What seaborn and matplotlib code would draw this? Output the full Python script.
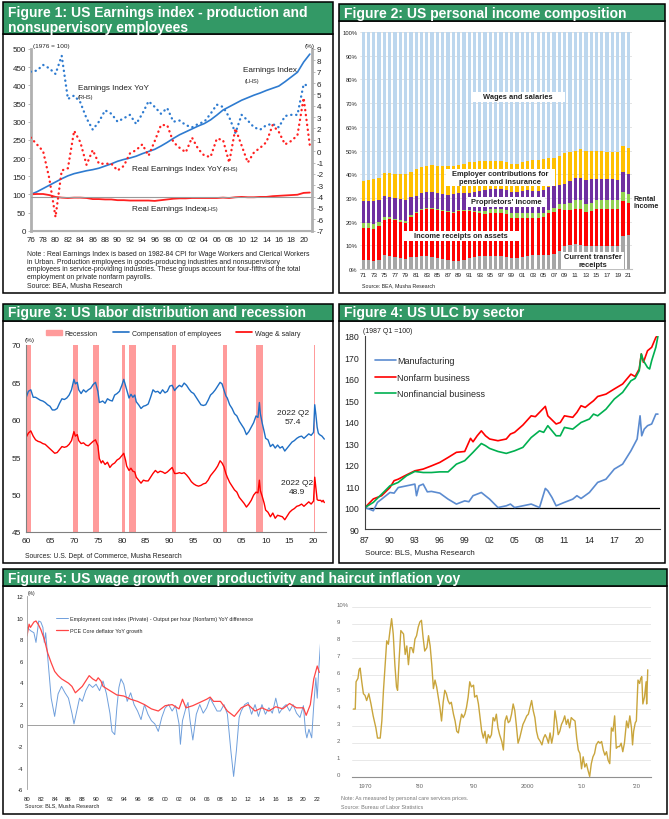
import numpy as np
import matplotlib
matplotlib.use('Agg')
import matplotlib.pyplot as plt
from matplotlib.patches import Rectangle, Patch
from matplotlib.lines import Line2D
import seaborn as sns

sns.set_style('white')
plt.rcParams['font.family'] = ['Liberation Sans', 'DejaVu Sans']
plt.rcParams['axes.linewidth'] = 0.8
plt.rcParams['axes.unicode_minus'] = False

# ---------------- Figure 1 data (annual 1976-2021) ----------------
years1 = list(range(1976, 2022))
earn_idx = [100, 107, 116, 125, 134, 143, 151, 157, 161, 165,
            168, 172, 178, 184, 191, 196, 200, 205, 212, 218,
            224, 233, 243, 254, 264, 272, 280, 288, 295, 305,
            318, 332, 341, 350, 359, 366, 373, 379, 386, 392,
            398, 410, 423, 436, 464, 486]
earn_yoy = [7.0, 7.1, 7.6, 7.3, 6.8, 8.4, 4.6, 4.9, 4.3, 2.9,
            1.9, 2.6, 3.6, 3.3, 2.6, 2.9, 3.2, 2.4, 3.3, 4.4,
            3.9, 3.3, 3.8, 2.6, 2.7, 2.3, 2.1, 2.4, 2.6, 3.3,
            4.1, 3.9, 3.0, 1.6, 3.2, 2.7, 2.1, 1.9, 2.3, 2.4,
            2.1, 3.1, 3.2, 3.2, 5.9, 5.7]
real_yoy = [1.2, 0.6, 0.0, -2.4, -5.8, -1.7, -1.5, 1.8, 0.8, -1.2,
            0.1, -1.1, -1.1, -1.1, -1.7, -1.3, -0.2, 0.1, 0.6, -0.4,
            0.9, 2.3, 2.3, 0.8, 0.3, -0.1, 1.2, 0.2, -0.4, -0.5,
            1.1, 1.0, -1.0, 2.0, 0.5, -1.0, -0.1, 0.3, 0.8, 2.3,
            1.7, 0.6, 0.9, 1.4, 4.7, 0.5]
real_idx = [100, 101, 101, 98, 93, 91, 90, 91, 91, 90,
            87, 87, 86, 86, 84, 84, 83, 83, 83, 83,
            82, 84, 86, 88, 89, 89, 90, 90, 90, 90,
            90, 91, 90, 92, 93, 92, 92, 93, 93, 95,
            96, 97, 98, 99, 104, 105]

# ---------------- Figure 2 data (cumulative share tops, %, 1971-2021) ----------------
years2 = list(range(1971, 2022))
cum_total = [100] * 51
cum_employer = [37.3, 37.5, 37.8, 38.5, 40.5, 40.3, 40.0, 40.0, 40.0, 41.0,
                42.0, 43.0, 43.5, 44.0, 43.5, 43.5, 43.3, 43.5, 44.0, 44.3,
                45.0, 45.3, 45.5, 45.5, 45.6, 45.6, 45.4, 45.0, 44.4, 44.5,
                45.0, 45.5, 46.0, 46.0, 46.5, 46.8, 47.0, 47.5, 49.0, 49.5,
                50.0, 50.5, 50.0, 50.0, 50.0, 49.8, 49.5, 49.5, 49.2, 52.0,
                51.0]
cum_proprietors = [28.6, 28.7, 28.8, 29.0, 30.6, 30.5, 30.0, 29.6, 29.2, 30.2,
                   31.0, 32.0, 32.3, 32.6, 32.2, 31.8, 31.2, 31.5, 32.0, 32.0,
                   32.0, 32.6, 33.0, 33.2, 33.6, 33.8, 33.6, 33.2, 32.6, 32.5,
                   33.0, 33.2, 33.0, 33.0, 33.5, 34.5, 35.0, 35.5, 36.0, 37.0,
                   38.5, 38.6, 37.6, 38.0, 38.0, 38.0, 38.0, 38.0, 37.6, 41.0,
                   40.2]
cum_rental = [19.5, 19.2, 19.0, 20.0, 22.0, 22.0, 21.3, 20.8, 20.2, 22.6,
              24.0, 25.4, 25.8, 25.8, 25.3, 24.8, 24.3, 23.9, 25.0, 25.0,
              25.0, 24.6, 24.5, 24.5, 25.5, 25.5, 25.3, 25.0, 23.7, 23.5,
              23.6, 23.7, 23.7, 23.5, 23.8, 24.8, 25.8, 27.5, 27.5, 27.8,
              29.0, 29.0, 27.6, 28.0, 29.0, 29.0, 29.0, 29.0, 29.0, 32.5,
              31.5]
cum_assets = [17.5, 17.2, 17.0, 18.2, 20.5, 21.0, 20.5, 20.0, 19.5, 22.0,
              23.5, 25.0, 25.5, 25.5, 25.0, 24.5, 24.0, 23.5, 24.5, 24.5,
              24.5, 24.0, 23.5, 23.0, 23.5, 23.5, 23.5, 23.0, 21.5, 21.5,
              21.5, 21.5, 21.5, 21.5, 22.0, 23.5, 24.0, 25.5, 25.0, 25.0,
              25.5, 25.5, 24.0, 24.5, 25.5, 25.5, 25.5, 25.5, 25.5, 28.5,
              28.0]
cum_transfer = [4.0, 4.0, 3.5, 4.0, 5.8, 5.5, 5.0, 4.5, 4.3, 5.0,
                5.0, 5.5, 5.6, 5.0, 4.5, 4.3, 4.0, 3.5, 3.5, 4.0,
                4.5, 5.0, 5.4, 5.4, 5.4, 5.4, 5.4, 5.0, 4.5, 4.5,
                5.0, 5.5, 5.9, 6.0, 6.0, 6.0, 6.3, 7.7, 9.9, 10.2,
                10.4, 10.0, 9.6, 9.5, 9.5, 9.5, 9.5, 9.5, 9.5, 14.0,
                14.4]

# ---------------- Figure 3 data ----------------
share_x = [1960.0, 1960.5, 1961.0, 1961.5, 1962.0, 1962.5, 1963.0, 1963.5, 1964.0, 1964.5,
           1965.0, 1965.5, 1966.0, 1966.5, 1967.0, 1967.5, 1968.0, 1968.5, 1969.0, 1969.5,
           1970.0, 1970.3, 1970.7, 1971.0, 1971.5, 1972.0, 1972.5, 1973.0, 1973.5, 1974.0,
           1974.5, 1975.0, 1975.3, 1975.7, 1976.0, 1976.5, 1977.0, 1977.5, 1978.0, 1978.5,
           1979.0, 1979.5, 1980.0, 1980.4, 1980.8, 1981.0, 1981.5, 1981.9, 1982.3, 1982.7,
           1983.0, 1983.5, 1984.0, 1984.5, 1985.0, 1985.5, 1986.0, 1986.5, 1987.0, 1987.5,
           1988.0, 1988.5, 1989.0, 1989.5, 1990.0, 1990.5, 1991.0, 1991.5, 1992.0, 1992.5,
           1993.0, 1993.5, 1994.0, 1994.5, 1995.0, 1995.5, 1996.0, 1996.5, 1997.0, 1997.5,
           1998.0, 1998.5, 1999.0, 1999.5, 2000.0, 2000.5, 2000.9, 2001.3, 2001.7, 2002.0,
           2002.5, 2003.0, 2003.5, 2004.0, 2004.5, 2005.0, 2005.5, 2006.0, 2006.5, 2007.0,
           2007.5, 2008.0, 2008.4, 2008.7, 2008.9, 2009.3, 2009.7, 2010.0, 2010.5, 2011.0,
           2011.5, 2012.0, 2012.5, 2013.0, 2013.5, 2014.0, 2014.5, 2015.0, 2015.5, 2016.0,
           2016.5, 2017.0, 2017.5, 2018.0, 2018.5, 2019.0, 2019.5, 2020.0, 2020.25, 2020.5,
           2020.75, 2021.0, 2021.25, 2021.5, 2021.75, 2022.0, 2022.25]
comp_share = [62.9, 63.8, 64.0, 63.0, 63.0, 62.8, 62.6, 62.5, 62.3, 62.0,
              61.8, 61.3, 61.3, 61.5, 62.2, 62.8, 62.7, 62.9, 63.3, 64.0,
              65.4, 64.8, 65.0, 64.0, 63.5, 64.0, 63.7, 64.0, 64.2, 64.7,
              65.0, 63.8, 62.3, 62.4, 62.5, 62.2, 62.8, 62.6, 62.5, 63.3,
              63.5, 63.8, 64.6, 65.4, 64.5, 64.0, 62.9, 63.4, 63.0, 63.3,
              62.4, 62.0, 61.5, 61.8, 61.9, 62.1, 63.0, 64.0, 63.7, 63.8,
              63.5, 64.0, 63.6, 63.8, 64.5, 64.6, 63.9, 64.3, 64.6, 64.4,
              64.9, 64.6, 64.1, 63.7, 63.5, 63.0, 62.5, 62.0, 61.9, 62.0,
              62.6, 63.3, 63.6, 64.0, 64.5, 65.0, 64.8, 64.0, 63.2, 62.9,
              62.0, 61.5, 60.8, 60.5, 59.8, 59.3, 58.8, 58.0, 58.4, 59.0,
              59.6, 60.5, 60.3, 62.3, 60.8, 59.5, 58.4, 57.5, 57.3, 56.4,
              56.7, 56.2, 56.6, 56.2, 56.4, 55.8, 56.2, 56.6, 57.0, 57.2,
              57.5, 57.7, 57.8, 57.5, 57.8, 58.1, 57.9, 58.3, 62.0, 60.6,
              59.0, 58.2, 58.0, 57.9, 57.8, 57.6, 57.4]
wage_share = [57.6, 58.2, 58.5, 57.8, 57.3, 57.1, 57.0, 56.8, 56.7, 56.4,
              56.1, 55.8, 55.5, 55.6, 56.0, 56.4, 56.3, 56.4, 56.7, 57.2,
              58.4, 57.8, 58.0, 57.2, 56.8, 56.9, 56.6, 56.5, 56.8, 57.1,
              57.3, 56.5, 54.8, 54.2, 54.5, 54.0, 54.3, 53.6, 54.0, 54.2,
              54.6, 54.8, 55.2, 55.5, 54.5, 53.8, 53.2, 53.5, 53.1, 53.0,
              52.3, 51.9, 51.5, 51.9, 51.8, 51.8, 52.3, 52.8, 53.2, 52.9,
              53.1, 53.0, 52.8, 53.0, 53.3, 53.6, 52.8, 52.8, 52.9, 52.8,
              52.9, 52.6, 52.2, 51.7, 51.4, 51.2, 51.1, 51.2, 51.4, 51.5,
              51.9, 52.5, 52.9, 53.3, 53.8, 54.5, 54.2, 53.7, 52.8, 52.3,
              51.6, 51.1, 50.6, 50.3, 49.6, 49.2, 48.8, 48.3, 48.7, 49.2,
              49.9, 50.3, 50.2, 51.9, 50.5, 49.7, 48.8, 47.9, 47.6, 47.0,
              47.5, 46.8, 47.2, 47.1, 47.0, 46.6, 47.1, 47.6, 47.9, 48.1,
              48.4, 48.5, 48.7, 48.4, 48.7, 49.0, 48.7, 49.1, 52.3, 50.8,
              49.3, 49.2, 49.2, 49.2, 49.0, 49.2, 48.9]
rec_start = [1960.3, 1969.9, 1973.9, 1980.0, 1981.5, 1990.5, 2001.2, 2007.9, 2020.0]
rec_end = [1961.1, 1970.9, 1975.2, 1980.6, 1982.9, 1991.2, 2001.9, 2009.5, 2020.3]

# ---------------- Figure 4 data ----------------
nonfarm_x = [1987.0, 1988.0, 1989.0, 1990.0, 1990.5, 1991.0, 1992.0, 1993.0, 1994.0, 1995.0,
             1996.0, 1997.0, 1998.0, 1999.0, 1999.7, 2000.0, 2000.5, 2001.0, 2001.5, 2002.0,
             2003.0, 2004.0, 2004.5, 2005.0, 2006.0, 2007.0, 2007.5, 2008.0, 2008.7, 2009.0,
             2010.0, 2010.5, 2011.0, 2012.0, 2012.5, 2013.0, 2013.5, 2014.0, 2014.5, 2015.0,
             2016.0, 2017.0, 2018.0, 2019.0, 2019.5, 2020.0, 2020.25, 2020.5, 2021.0, 2021.5,
             2022.0, 2022.25]
nonfarm_y = [100.0, 104.0, 105.5, 109.3, 112.5, 113.2, 115.2, 117.1, 117.9, 119.4,
             121.0, 123.3, 125.7, 126.1, 132.2, 130.6, 133.4, 135.7, 133.4, 131.9,
             131.1, 131.9, 134.2, 135.0, 138.4, 142.7, 142.3, 144.3, 147.1, 142.7,
             138.9, 139.6, 142.7, 142.0, 144.3, 147.4, 146.6, 148.2, 149.7, 151.7,
             152.8, 155.2, 157.5, 162.1, 161.0, 164.5, 171.5, 167.6, 173.0, 174.6,
             179.2, 180.3]
nonfin_x = [1987.0, 1988.0, 1989.0, 1990.0, 1991.0, 1992.0, 1993.0, 1994.0, 1995.0, 1996.0,
            1997.0, 1998.0, 1999.0, 2000.0, 2001.0, 2001.5, 2002.0, 2003.0, 2004.0, 2005.0,
            2006.0, 2007.0, 2008.0, 2008.5, 2009.0, 2010.0, 2010.5, 2011.0, 2012.0, 2013.0,
            2014.0, 2014.5, 2015.0, 2016.0, 2017.0, 2018.0, 2019.0, 2019.5, 2020.0, 2020.25,
            2020.5, 2021.0, 2021.25, 2021.5, 2022.0, 2022.25]
nonfin_y = [100.0, 102.4, 106.2, 110.1, 111.7, 114.8, 116.8, 116.3, 116.3, 116.6,
            116.6, 120.2, 121.8, 125.7, 129.8, 128.8, 127.5, 126.1, 125.2, 126.4,
            128.0, 132.6, 135.7, 135.0, 138.1, 133.4, 133.4, 137.3, 136.5, 139.6,
            141.2, 143.5, 142.7, 145.8, 150.5, 153.6, 159.0, 160.1, 163.7, 171.5,
            168.4, 165.2, 164.5, 168.4, 174.6, 179.7]
mfg_x = [1987.0, 1987.5, 1988.0, 1988.5, 1989.0, 1990.0, 1990.5, 1991.0, 1992.0, 1993.0,
         1993.2, 1993.5, 1994.0, 1994.5, 1995.0, 1996.0, 1997.0, 1998.0, 1999.0, 1999.5,
         2000.0, 2001.0, 2002.0, 2003.0, 2004.0, 2004.5, 2005.0, 2006.0, 2007.0, 2008.0,
         2008.7, 2009.0, 2009.5, 2010.0, 2011.0, 2012.0, 2012.5, 2013.0, 2014.0, 2015.0,
         2016.0, 2017.0, 2018.0, 2019.0, 2019.75, 2020.1, 2020.3, 2020.6, 2021.0, 2021.5,
         2022.0, 2022.25]
mfg_y = [100.0, 99.3, 98.5, 102.4, 103.9, 107.0, 106.7, 109.3, 110.1, 110.9,
         105.5, 110.1, 110.9, 107.3, 107.5, 106.7, 103.9, 101.6, 103.1, 102.7,
         105.5, 107.0, 103.9, 100.0, 100.8, 101.6, 100.0, 100.8, 101.6, 100.0,
         108.9, 107.8, 104.7, 100.8, 102.4, 103.9, 105.5, 104.2, 107.0, 111.7,
         113.2, 117.9, 120.2, 126.4, 131.9, 142.7, 133.4, 136.5, 138.1, 138.9,
         143.5, 143.5]

# ---------------- Figure 5 data ----------------
eci_x = [1980.0, 1980.5, 1981.0, 1981.3, 1981.7, 1982.0, 1982.3, 1982.5, 1982.7, 1983.0,
         1983.5, 1984.0, 1984.5, 1985.0, 1985.5, 1986.0, 1986.5, 1986.8, 1987.2, 1987.6,
         1988.0, 1988.5, 1989.0, 1989.5, 1990.0, 1990.5, 1991.0, 1991.5, 1992.0, 1992.3,
         1992.7, 1993.0, 1993.3, 1993.6, 1994.0, 1994.5, 1995.0, 1995.5, 1996.0, 1996.5,
         1997.0, 1997.5, 1998.0, 1998.5, 1999.0, 1999.5, 2000.0, 2000.5, 2001.0, 2001.5,
         2002.0, 2002.2, 2002.5, 2003.0, 2003.3, 2003.6, 2004.0, 2004.5, 2005.0, 2005.5,
         2006.0, 2006.5, 2007.0, 2007.5, 2008.0, 2008.5, 2009.0, 2009.5, 2009.9, 2010.3,
         2010.7, 2011.0, 2011.5, 2012.0, 2012.5, 2013.0, 2013.5, 2014.0, 2014.5, 2015.0,
         2015.5, 2016.0, 2016.5, 2017.0, 2017.5, 2018.0, 2018.5, 2019.0, 2019.5, 2020.0,
         2020.3, 2020.5, 2020.8, 2021.2, 2021.5, 2021.8, 2022.0, 2022.2, 2022.5]
eci_y = [9.1, 8.8, 8.6, 7.7, 9.7, 9.6, 9.1, 7.7, 8.6, 6.3,
         2.5, 0.8, 2.9, 3.6, 3.0, 2.5, 1.1, 0.1, 1.3, 2.5,
         2.2, 3.2, 3.8, 3.5, 3.8, 3.2, 4.1, 2.9, 1.1, -0.6,
         -0.9, 1.6, 3.5, 4.3, 3.8, 2.2, 3.0, 1.9, 1.3, 0.5,
         1.9, 1.0, 0.4, 0.1, -0.6, 0.7, 1.6, 1.9, 1.3, 1.8,
         0.1, -1.8, 0.4, 1.6, 2.1, 0.4, -1.4, 1.0, 1.9, 1.1,
         1.6, 2.5, 1.9, 1.3, 1.3, 1.9, 1.0, -2.4, -4.8, -2.4,
         0.7, 1.3, 1.9, 2.1, 1.0, 1.9, 0.8, 1.9, 1.0, 1.6,
         1.1, 2.5, 1.1, 1.6, 1.9, 1.3, 1.9, 1.1, 0.7, 1.8,
         -0.6, -1.2, -0.4, -1.2, 1.9, 4.4, 2.5, 5.0, 7.9]
pce_x = [1980.0, 1980.3, 1980.5, 1981.0, 1981.3, 1981.7, 1982.0, 1982.5, 1983.0, 1983.5,
         1984.0, 1984.5, 1985.0, 1985.5, 1986.0, 1986.5, 1987.0, 1987.5, 1988.0, 1988.5,
         1989.0, 1989.5, 1990.0, 1990.3, 1990.7, 1991.0, 1992.0, 1993.0, 1994.0, 1995.0,
         1996.0, 1997.0, 1998.0, 1999.0, 2000.0, 2001.0, 2002.0, 2002.5, 2003.0, 2004.0,
         2005.0, 2006.0, 2006.5, 2007.0, 2008.0, 2009.0, 2010.0, 2011.0, 2012.0, 2013.0,
         2014.0, 2015.0, 2016.0, 2017.0, 2018.0, 2019.0, 2020.0, 2020.4, 2021.0, 2021.5,
         2022.0, 2022.3]
pce_y = [8.3, 9.4, 9.1, 9.6, 9.7, 9.3, 8.9, 8.0, 6.7, 5.8,
         5.0, 4.6, 4.3, 4.1, 3.9, 3.6, 3.0, 3.3, 3.6, 4.1,
         4.6, 4.3, 4.1, 4.4, 4.1, 3.6, 3.2, 2.8, 2.7, 2.4,
         2.2, 1.9, 1.5, 1.3, 1.8, 1.9, 1.5, 2.4, 1.6, 1.8,
         2.1, 2.4, 2.6, 2.2, 2.2, 1.3, 0.8, 1.6, 1.9, 1.3,
         1.6, 1.3, 1.7, 1.5, 2.0, 1.6, 1.6, 0.9, 1.9, 4.3,
         5.5, 4.9]
hair_x = [1967.85, 1968.2, 1968.35, 1968.7, 1968.9, 1969.1, 1969.4, 1969.7, 1970.0, 1970.3,
          1970.7, 1971.1, 1971.5, 1972.0, 1972.3, 1972.8, 1973.1, 1973.4, 1973.7, 1974.0,
          1974.3, 1974.6, 1974.9, 1975.2, 1975.5, 1975.8, 1976.0, 1976.3, 1976.6, 1977.1,
          1977.4, 1977.7, 1978.0, 1978.3, 1978.6, 1978.9, 1979.2, 1979.5, 1979.8, 1980.1,
          1980.4, 1980.7, 1981.0, 1981.4, 1981.7, 1982.0, 1982.3, 1982.6, 1982.9, 1983.2,
          1983.5, 1983.8, 1984.1, 1984.4, 1984.7, 1985.0, 1985.3, 1985.6, 1985.9, 1986.3,
          1986.6, 1986.9, 1987.2, 1987.5, 1987.8, 1988.1, 1988.4, 1988.7, 1989.0, 1989.3,
          1989.6, 1990.0, 1990.2, 1990.6, 1990.9, 1991.2, 1991.5, 1991.8, 1992.1, 1992.4,
          1992.7, 1993.0, 1993.3, 1993.6, 1993.9, 1994.2, 1994.5, 1994.8, 1995.2, 1995.5,
          1995.8, 1996.1, 1996.4, 1996.7, 1997.0, 1997.3, 1997.6, 1997.9, 1998.2, 1998.5,
          1998.8, 1999.1, 1999.4, 1999.8, 2000.1, 2000.4, 2000.7, 2001.0, 2001.3, 2001.6,
          2001.9, 2002.3, 2002.6, 2002.9, 2003.2, 2003.5, 2003.8, 2004.1, 2004.4, 2004.7,
          2005.0, 2005.3, 2005.6, 2005.9, 2006.2, 2006.5, 2006.8, 2007.1, 2007.4, 2007.7,
          2008.0, 2008.3, 2008.7, 2009.0, 2009.3, 2009.6, 2009.9, 2010.2, 2010.5, 2010.8,
          2011.1, 2011.4, 2011.7, 2012.0, 2012.3, 2012.6, 2013.0, 2013.3, 2013.6, 2013.9,
          2014.2, 2014.5, 2014.8, 2015.1, 2015.4, 2015.7, 2016.0, 2016.3, 2016.6, 2016.9,
          2017.2, 2017.5, 2017.8, 2018.2, 2018.5, 2018.8, 2019.1, 2019.3, 2019.5, 2019.8,
          2020.0, 2020.3, 2020.6, 2020.8, 2021.0, 2021.2, 2021.5, 2021.8, 2021.9, 2022.1]
hair_y = [4.0, 4.0, 5.6, 5.8, 6.3, 6.4, 5.6, 4.9, 4.8, 4.5,
          4.9, 4.3, 3.6, 2.9, 2.3, 2.3, 3.3, 5.1, 6.6, 8.0,
          7.8, 8.6, 9.3, 8.4, 6.6, 5.3, 5.1, 7.0, 8.6, 8.4,
          7.2, 7.7, 6.6, 7.6, 7.6, 7.3, 8.1, 8.3, 8.8, 9.1,
          9.2, 8.2, 7.4, 7.6, 8.3, 7.7, 6.6, 5.2, 5.7, 5.3,
          4.7, 4.1, 3.3, 4.4, 5.1, 4.9, 4.5, 4.3, 4.4, 3.7,
          3.3, 2.7, 2.6, 3.2, 3.7, 3.5, 3.7, 4.1, 4.7, 5.6,
          5.3, 5.4, 4.7, 4.8, 4.3, 3.5, 2.7, 2.3, 2.7, 2.0,
          2.5, 2.3, 2.5, 3.5, 3.3, 3.7, 2.9, 2.5, 2.1, 1.6,
          3.3, 3.6, 3.2, 3.3, 3.7, 4.3, 3.9, 3.0, 2.0, 2.3,
          2.7, 3.1, 3.3, 3.6, 3.7, 4.1, 4.5, 3.9, 3.5, 2.7,
          2.3, 2.1, 1.9, 2.3, 2.5, 2.3, 2.0, 2.6, 2.0, 2.5,
          3.9, 3.3, 2.5, 2.7, 3.1, 3.3, 3.6, 3.1, 3.4, 2.9,
          3.5, 3.4, 3.3, 2.3, 1.6, 1.4, 0.5, 1.2, 0.6, 0.8,
          0.4, 0.05, 0.8, 1.2, 1.4, 1.9, 2.1, 2.0, 2.1, 1.6,
          1.3, 1.5, 1.0, 0.8, 2.9, 2.7, 3.6, 1.7, 1.8, 1.8,
          2.0, 1.5, 2.0, 3.3, 2.9, 3.6, 2.9, 1.9, 2.7, 3.2,
          3.3, 5.7, 5.5, 5.8, 5.9, 4.3, 4.7, 5.6, 4.3, 6.3]

# ---------------- Layout ----------------
W, H = 669, 820
fig = plt.figure(figsize=(W / 100, H / 100), dpi=100)


def R(x0, y0, x1, y1):
    return [x0 / W, 1 - y1 / H, (x1 - x0) / W, (y1 - y0) / H]


bg = fig.add_axes([0, 0, 1, 1])
bg.set_xlim(0, W); bg.set_ylim(H, 0); bg.axis('off')
GREEN = '#339966'


def panel(x0, x1, yh0, yh1, yb1, titles, tys, size=10):
    bg.add_patch(Rectangle((x0, yh1), x1 - x0, yb1 - yh1, fc='white', ec='black', lw=1.1))
    bg.add_patch(Rectangle((x0, yh0), x1 - x0, yh1 - yh0, fc=GREEN, ec='black', lw=1.1))
    for t, ty in zip(titles, tys):
        bg.text(x0 + 5, ty, t, color='white', fontsize=size, fontweight='bold', va='center', ha='left')


panel(3, 333, 3, 35, 294, ['Figure 1: US Earnings index - production and', 'nonsupervisory employees'],
      [12.7, 28.3])
panel(339, 665, 5, 22, 294, ['Figure 2: US personal income composition'], [13.6])
panel(3, 333, 305, 322, 564, ['Figure 3: US labor distribution and recession'], [313.2])
panel(339, 665, 305, 322, 564, ['Figure 4: US ULC by sector'], [313.2])
panel(3, 667, 570, 587, 815, ['Figure 5: US wage growth over productivity and haircut inflation yoy'], [578.7])

TXT = '#222222'
DOT = (0, (0.1, 2.0))

# ---------------- Figure 1 ----------------
ax1 = fig.add_axes(R(30.7, 50, 311.7, 231.7))
ax1r = ax1.twinx()
sns.lineplot(x=years1, y=earn_idx, ax=ax1, color='#2E7BD0', lw=1.2)
sns.lineplot(x=years1, y=real_idx, ax=ax1, color='#FF2020', lw=1.3)
ax1r.axhline(-4, color='#9A9A9A', lw=0.8)
sns.lineplot(x=years1, y=earn_yoy, ax=ax1r, color='#2E7BD0', lw=1.7, linestyle=DOT, dash_capstyle='round')
sns.lineplot(x=years1, y=real_yoy, ax=ax1r, color='#FF2020', lw=1.7, linestyle=DOT, dash_capstyle='round')
ax1.set_xlim(1976, 2021.3); ax1.set_ylim(0, 500); ax1r.set_ylim(-7, 9)
ax1.set_yticks(range(0, 501, 50))
ax1r.set_yticks(range(-7, 10))
ax1.set_xticks(range(1976, 2021, 2))
ax1.set_xticklabels([f"{y % 100:02d}" for y in range(1976, 2021, 2)])
for a in (ax1, ax1r):
    a.set_xlabel(''); a.set_ylabel('')
    for s in a.spines.values():
        s.set_color('#B0B0B0')
    a.spines['top'].set_visible(False)
    a.tick_params(labelsize=5.8, length=2, width=0.6, pad=1.5, colors='#B0B0B0', labelcolor=TXT)
ax1.spines['left'].set_linewidth(2); ax1r.spines['right'].set_linewidth(2)
ax1.spines['bottom'].set_linewidth(1.5)
ax1r.spines['left'].set_visible(False); ax1.spines['right'].set_visible(False)

# ---------------- Figure 2 ----------------
ax2 = fig.add_axes(R(360, 33, 632, 270))
lab2 = [f"{y % 100:02d}" for y in years2]
for vals, c in [(cum_total, '#BDD7EE'), (cum_employer, '#FFC000'), (cum_proprietors, '#7030A0'),
                (cum_rental, '#92D050'), (cum_assets, '#FF0000'), (cum_transfer, '#A6A6A6')]:
    sns.barplot(x=lab2, y=vals, order=lab2, color=c, saturation=1, width=0.62, ax=ax2,
                errorbar=None, linewidth=0)
ax2.set_xlim(-0.6, 50.7); ax2.set_ylim(0, 100)
ax2.set_yticks(range(0, 101, 10))
ax2.set_yticklabels([f"{v}%" for v in range(0, 101, 10)])
ax2.set_xticks(range(0, 51, 2))
ax2.set_xticklabels(lab2[::2])
ax2.yaxis.grid(True, color='#D9D9D9', lw=0.5)
ax2.set_axisbelow(True)
for s in ['top', 'right', 'left']:
    ax2.spines[s].set_visible(False)
ax2.spines['bottom'].set_color('#BFBFBF')
ax2.tick_params(axis='y', labelsize=4.2, length=0, pad=2, labelcolor=TXT)
ax2.tick_params(axis='x', labelsize=4.6, length=0, pad=2.5, labelcolor=TXT)
ax2.set_xlabel(''); ax2.set_ylabel('')

# ---------------- Figure 3 ----------------
ax3 = fig.add_axes(R(26, 346, 326, 532.7))
for s0, s1 in zip(rec_start, rec_end):
    ax3.axvspan(s0, s1, color='#FF9B9B', lw=0, zorder=0)
sns.lineplot(x=share_x, y=comp_share, ax=ax3, color='#1F6FC5', lw=1.0)
sns.lineplot(x=share_x, y=wage_share, ax=ax3, color='#FF0000', lw=1.0)
ax3.set_xlim(1960, 2022.6); ax3.set_ylim(45, 70)
ax3.set_yticks(range(45, 71, 5))
ax3.set_xticks(range(1960, 2021, 5))
ax3.set_xticklabels([f"{y % 100:02d}" for y in range(1960, 2021, 5)])
for s in ['top', 'right']:
    ax3.spines[s].set_visible(False)
for s in ['left', 'bottom']:
    ax3.spines[s].set_color('#808080')
ax3.tick_params(labelsize=6, length=2, width=0.6, pad=1.5, colors='#808080', labelcolor=TXT)
ax3.set_xlabel(''); ax3.set_ylabel('')
h3 = [Patch(color='#FF9B9B'), Line2D([], [], color='#1F6FC5', lw=1.2), Line2D([], [], color='#FF0000', lw=1.2)]
ax3.legend(h3, ['Recession', 'Compensation of employees', 'Wage & salary'], ncol=3, loc='center',
           bbox_to_anchor=(0.49, 1.064), frameon=False, fontsize=5, handlelength=2.3, handleheight=0.7,
           columnspacing=2.2, handletextpad=0.4, borderpad=0, borderaxespad=0)

# ---------------- Figure 4 ----------------
ax4 = fig.add_axes(R(365, 336.7, 660, 530))
ax4.axhline(100, color='black', lw=0.9, zorder=1)
sns.lineplot(x=mfg_x, y=mfg_y, ax=ax4, color='#5B8BD0', lw=1.2, label='Manufacturing')
sns.lineplot(x=nonfarm_x, y=nonfarm_y, ax=ax4, color='#FF0000', lw=1.2, label='Nonfarm business')
sns.lineplot(x=nonfin_x, y=nonfin_y, ax=ax4, color='#00B050', lw=1.2, label='Nonfinancial business')
ax4.set_xlim(1987, 2022.5); ax4.set_ylim(90, 180)
ax4.set_yticks(range(90, 181, 10))
ax4.set_xticks(range(1987, 2021, 3))
ax4.set_xticklabels([f"{y % 100:02d}" for y in range(1987, 2021, 3)])
for s in ['top', 'right']:
    ax4.spines[s].set_visible(False)
for s in ['left', 'bottom']:
    ax4.spines[s].set_color('#404040')
ax4.tick_params(labelsize=6.3, length=2.5, width=0.6, pad=1.5, colors='#404040', labelcolor=TXT)
ax4.set_xlabel(''); ax4.set_ylabel('')
ax4.legend(loc='upper left', bbox_to_anchor=(0.035, 0.895), frameon=False, fontsize=6.5,
           handlelength=2.3, handletextpad=0.15, labelspacing=0.85, borderpad=0, borderaxespad=0)

# ---------------- Figure 5 left ----------------
ax5 = fig.add_axes(R(27, 597.3, 320, 790.3))
ax5.axhline(0, color='#A0A0A0', lw=0.7, zorder=1)
sns.lineplot(x=eci_x, y=eci_y, ax=ax5, color='#6F9FDC', lw=0.7,
             label='Employment cost index (Private) - Output per hour (Nonfarm) YoY difference')
sns.lineplot(x=pce_x, y=pce_y, ax=ax5, color='#FF4545', lw=0.9, label='PCE Core deflator YoY growth')
ax5.set_xlim(1980, 2022.4); ax5.set_ylim(-6, 12)
ax5.set_yticks(range(-6, 13, 2))
ax5.set_xticks(range(1980, 2023, 2))
ax5.set_xticklabels([f"{y % 100:02d}" for y in range(1980, 2023, 2)])
for s in ['top', 'right', 'bottom']:
    ax5.spines[s].set_visible(False)
ax5.spines['left'].set_color('#A0A0A0'); ax5.spines['left'].set_linewidth(0.6)
ax5.tick_params(axis='y', labelsize=4.3, length=1.5, width=0.5, pad=1.5, colors='#A0A0A0', labelcolor=TXT)
ax5.tick_params(axis='x', labelsize=4.3, length=0, pad=5, labelcolor=TXT)
ax5.set_xlabel(''); ax5.set_ylabel('')
ax5.legend(loc='upper left', bbox_to_anchor=(0.1, 0.9), frameon=False, fontsize=3.9,
           handlelength=2.1, handletextpad=0.4, labelspacing=1.3, borderpad=0, borderaxespad=0)

# ---------------- Figure 5 right ----------------
ax6 = fig.add_axes(R(352, 607.7, 651, 778.3))
sns.lineplot(x=hair_x, y=hair_y, ax=ax6, color='#C9A53C', lw=1.0)
ax6.set_xlim(1967.6, 2022.7); ax6.set_ylim(0, 10)
ax6.set_yticks(range(0, 11))
ax6.set_yticklabels([str(v) for v in range(10)] + ['10%'])
ax6.yaxis.grid(True, color='#E4E4E4', lw=0.6)
ax6.set_axisbelow(True)
ax6.set_xticks([1970, 1980, 1990, 2000, 2010, 2020])
ax6.set_xticklabels(['1970', "'80", "'90", '2000', "'10", "'20"])
for s in ['top', 'right', 'left']:
    ax6.spines[s].set_visible(False)
ax6.spines['bottom'].set_color('#909090')
ax6.tick_params(axis='y', labelsize=4.3, length=0, pad=11, labelcolor='#666666')
ax6.tick_params(axis='x', labelsize=4.3, length=2, width=0.5, pad=2, colors='#909090', labelcolor='#666666')
for lab in ax6.get_yticklabels():
    lab.set_horizontalalignment('left')
    lab.set_verticalalignment('bottom')
ax6.set_xlabel(''); ax6.set_ylabel('')

# ---------------- Overlay texts ----------------
ov = fig.add_axes([0, 0, 1, 1], zorder=10)
ov.set_xlim(0, W); ov.set_ylim(H, 0); ov.axis('off'); ov.patch.set_alpha(0)


def T(x, y, s, size, ha='left', **kw):
    ov.text(x, y, s, fontsize=size, ha=ha, va='center', color=kw.pop('color', TXT), **kw)


# fig1
T(33, 46.5, '(1976 = 100)', 4.6)
T(310, 46.5, '(%)', 4.6, ha='center')
T(78, 88, 'Earnings Index YoY', 5.9)
T(78, 97.5, '(RHS)', 4.0)
T(243, 71, 'Earnings Index', 5.9)
T(245, 81, '(LHS)', 4.0)
T(132, 169.5, 'Real Earnings Index YoY', 5.9)
T(223, 169.5, '(RHS)', 4.0)
T(132, 209.5, 'Real Earnings Index', 5.9)
T(204, 209.5, '(LHS)', 4.0)
notes1 = ['Note : Real Earnings Index is based on 1982-84 CPI for Wage Workers and Clerical Workers',
          'in Urban. Production employees in goods-producing industries and nonsupervisory',
          'employees in service-providing industries. These groups account for four-fifths of the total',
          'employment on private nonfarm payrolls.',
          'Source: BEA, Musha Research']
for i, t in enumerate(notes1):
    T(27, 254.3 + 7.8 * i, t, 4.95)

# fig2 labels
for (x0, y0, x1, y1) in [(471, 92.7, 565, 102.7), (446, 170, 555, 187), (467, 197.5, 545, 207.5),
                         (403, 231.5, 519, 241.5), (561, 253, 624, 270)]:
    ov.add_patch(Rectangle((x0, y0), x1 - x0, y1 - y0, fc='white', ec='none'))
B = dict(fontweight='bold')
T(518, 97.8, 'Wages and salaries', 5.4, ha='center', **B)
T(500, 174.4, 'Employer contributions for', 5.4, ha='center', **B)
T(500, 182.4, 'pension and insurance', 5.4, ha='center', **B)
T(506, 202.6, "Proprietors' income", 5.4, ha='center', **B)
T(461, 236.6, 'Income receipts on assets', 5.4, ha='center', **B)
T(592.5, 257.6, 'Current transfer', 5.4, ha='center', **B)
T(592.5, 265.2, 'receipts', 5.4, ha='center', **B)
T(633, 199.2, 'Rental', 5.2, **B)
T(633, 206.8, 'income', 5.2, **B)
T(362, 286, 'Source: BEA, Musha Research', 3.8)

# fig3
T(25, 340.5, '(%)', 4.6)
T(293, 414, '2022 Q2', 6.0, ha='center')
T(293, 423, '57.4', 6.0, ha='center')
T(297, 483.5, '2022 Q2', 6.0, ha='center')
T(297, 492.8, '48.9', 6.0, ha='center')
T(25, 556.7, 'Sources: U.S. Dept. of Commerce, Musha Research', 4.9)

# fig4
T(363, 332, '(1987 Q1 =100)', 5.0)
T(365, 553, 'Source: BLS, Musha Research', 5.8)

# fig5
T(28, 593.5, '(%)', 3.6)
T(25, 805.7, 'Source: BLS, Musha Research', 3.9)
T(341, 798.5, 'Note: As measured by personal care services prices.', 3.9, color='#777777')
T(341, 807.5, 'Source: Bureau of Labor Statistics', 3.9, color='#777777')

fig.savefig('out.png', dpi=100)
